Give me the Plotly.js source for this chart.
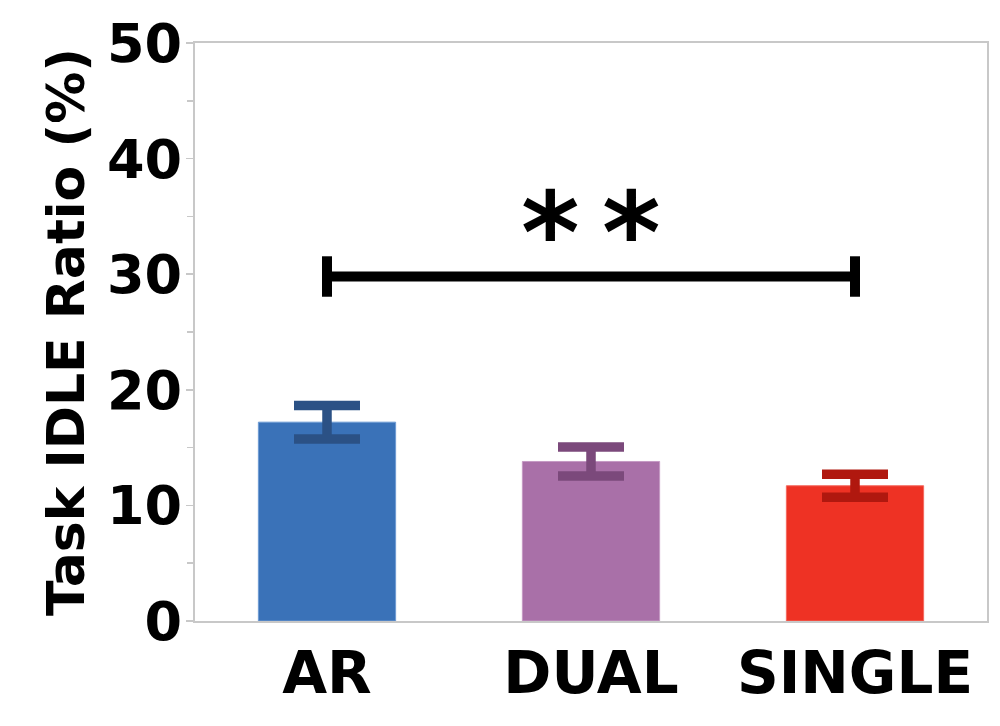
<!DOCTYPE html>
<html>
<head>
<meta charset="utf-8">
<script src="https://cdn.plot.ly/plotly-3.0.1.min.js"></script>
<style>
  html, body { margin: 0; padding: 0; background: #fff; }
  #chart { width: 1000px; height: 726px; }
</style>
</head>
<body>
<div id="chart"></div>
<script>
// condition means and standard errors
var categories = ['AR', 'DUAL', 'SINGLE'];
var idleRatio = [17.2, 13.8, 11.7];
var idleErr = [1.45, 1.25, 1.0];
var barColors = ['#3a72b8', '#a970a8', '#ee3224'];
var errColors = ['#2b5185', '#7b497b', '#b0180f'];
var edgeColors = ['#6e9bd3', '#c59ac4', '#f46a5f'];

// significance bracket between AR and SINGLE
var sigPair = ['AR', 'SINGLE'];
var sigLevel = [29.8, 29.8];
var sigCap = [1.75, 1.75];
var sigLabel = '*\u2009*';
var sigLabelY = 33.6;

var axisGray = '#c8c8c8';
var boldFont = 'DejaVu Sans, Verdana, sans-serif';

var data = [];
for (var i = 0; i < categories.length; i++) {
  data.push({
    type: 'bar',
    x: [categories[i]],
    y: [idleRatio[i]],
    width: 0.52,
    marker: { color: barColors[i], line: { color: edgeColors[i], width: 1 } },
    error_y: {
      type: 'data',
      array: [idleErr[i]],
      visible: true,
      color: errColors[i],
      thickness: 9.5,
      width: 33
    },
    hoverinfo: 'skip'
  });
}

data.push({
  type: 'scatter',
  mode: 'lines',
  x: sigPair,
  y: sigLevel,
  line: { color: '#000', width: 10 },
  error_y: {
    type: 'data',
    array: sigCap,
    visible: true,
    color: '#000',
    thickness: 10,
    width: 0
  },
  hoverinfo: 'skip'
});

var layout = {
  width: 1000,
  height: 726,
  margin: { l: 195, r: 13, t: 43, b: 105 },
  paper_bgcolor: '#fff',
  plot_bgcolor: '#fff',
  showlegend: false,
  barmode: 'overlay',
  hovermode: false,
  xaxis: {
    type: 'category',
    categoryarray: categories,
    range: [-0.5, 2.5],
    showline: true,
    linecolor: axisGray,
    linewidth: 2,
    mirror: true,
    ticks: '',
    showgrid: false,
    zeroline: false,
    tickfont: { family: boldFont, size: 58, color: '#000', weight: 'bold' }
  },
  yaxis: {
    range: [0, 50],
    dtick: 10,
    showline: true,
    linecolor: axisGray,
    linewidth: 2,
    mirror: true,
    ticks: 'outside',
    ticklen: 7,
    tickwidth: 1.5,
    tickcolor: axisGray,
    ticklabelstandoff: -7,
    minor: { dtick: 5, ticks: 'outside', ticklen: 6, tickwidth: 1.5, tickcolor: axisGray },
    showgrid: false,
    zeroline: false,
    tickfont: { family: boldFont, size: 54, color: '#000', weight: 'bold' },
    title: {
      text: 'Task IDLE Ratio (%)',
      font: { family: boldFont, size: 52, color: '#000', weight: 'bold' },
      standoff: 6
    }
  },
  annotations: [{
    x: 1,
    y: sigLabelY,
    xref: 'x',
    yref: 'y',
    text: sigLabel,
    showarrow: false,
    font: { family: boldFont, size: 112, color: '#000', weight: 'bold' },
    xanchor: 'center',
    yanchor: 'middle'
  }]
};

Plotly.newPlot('chart', data, layout, { displayModeBar: false, staticPlot: true });
</script>
</body>
</html>
